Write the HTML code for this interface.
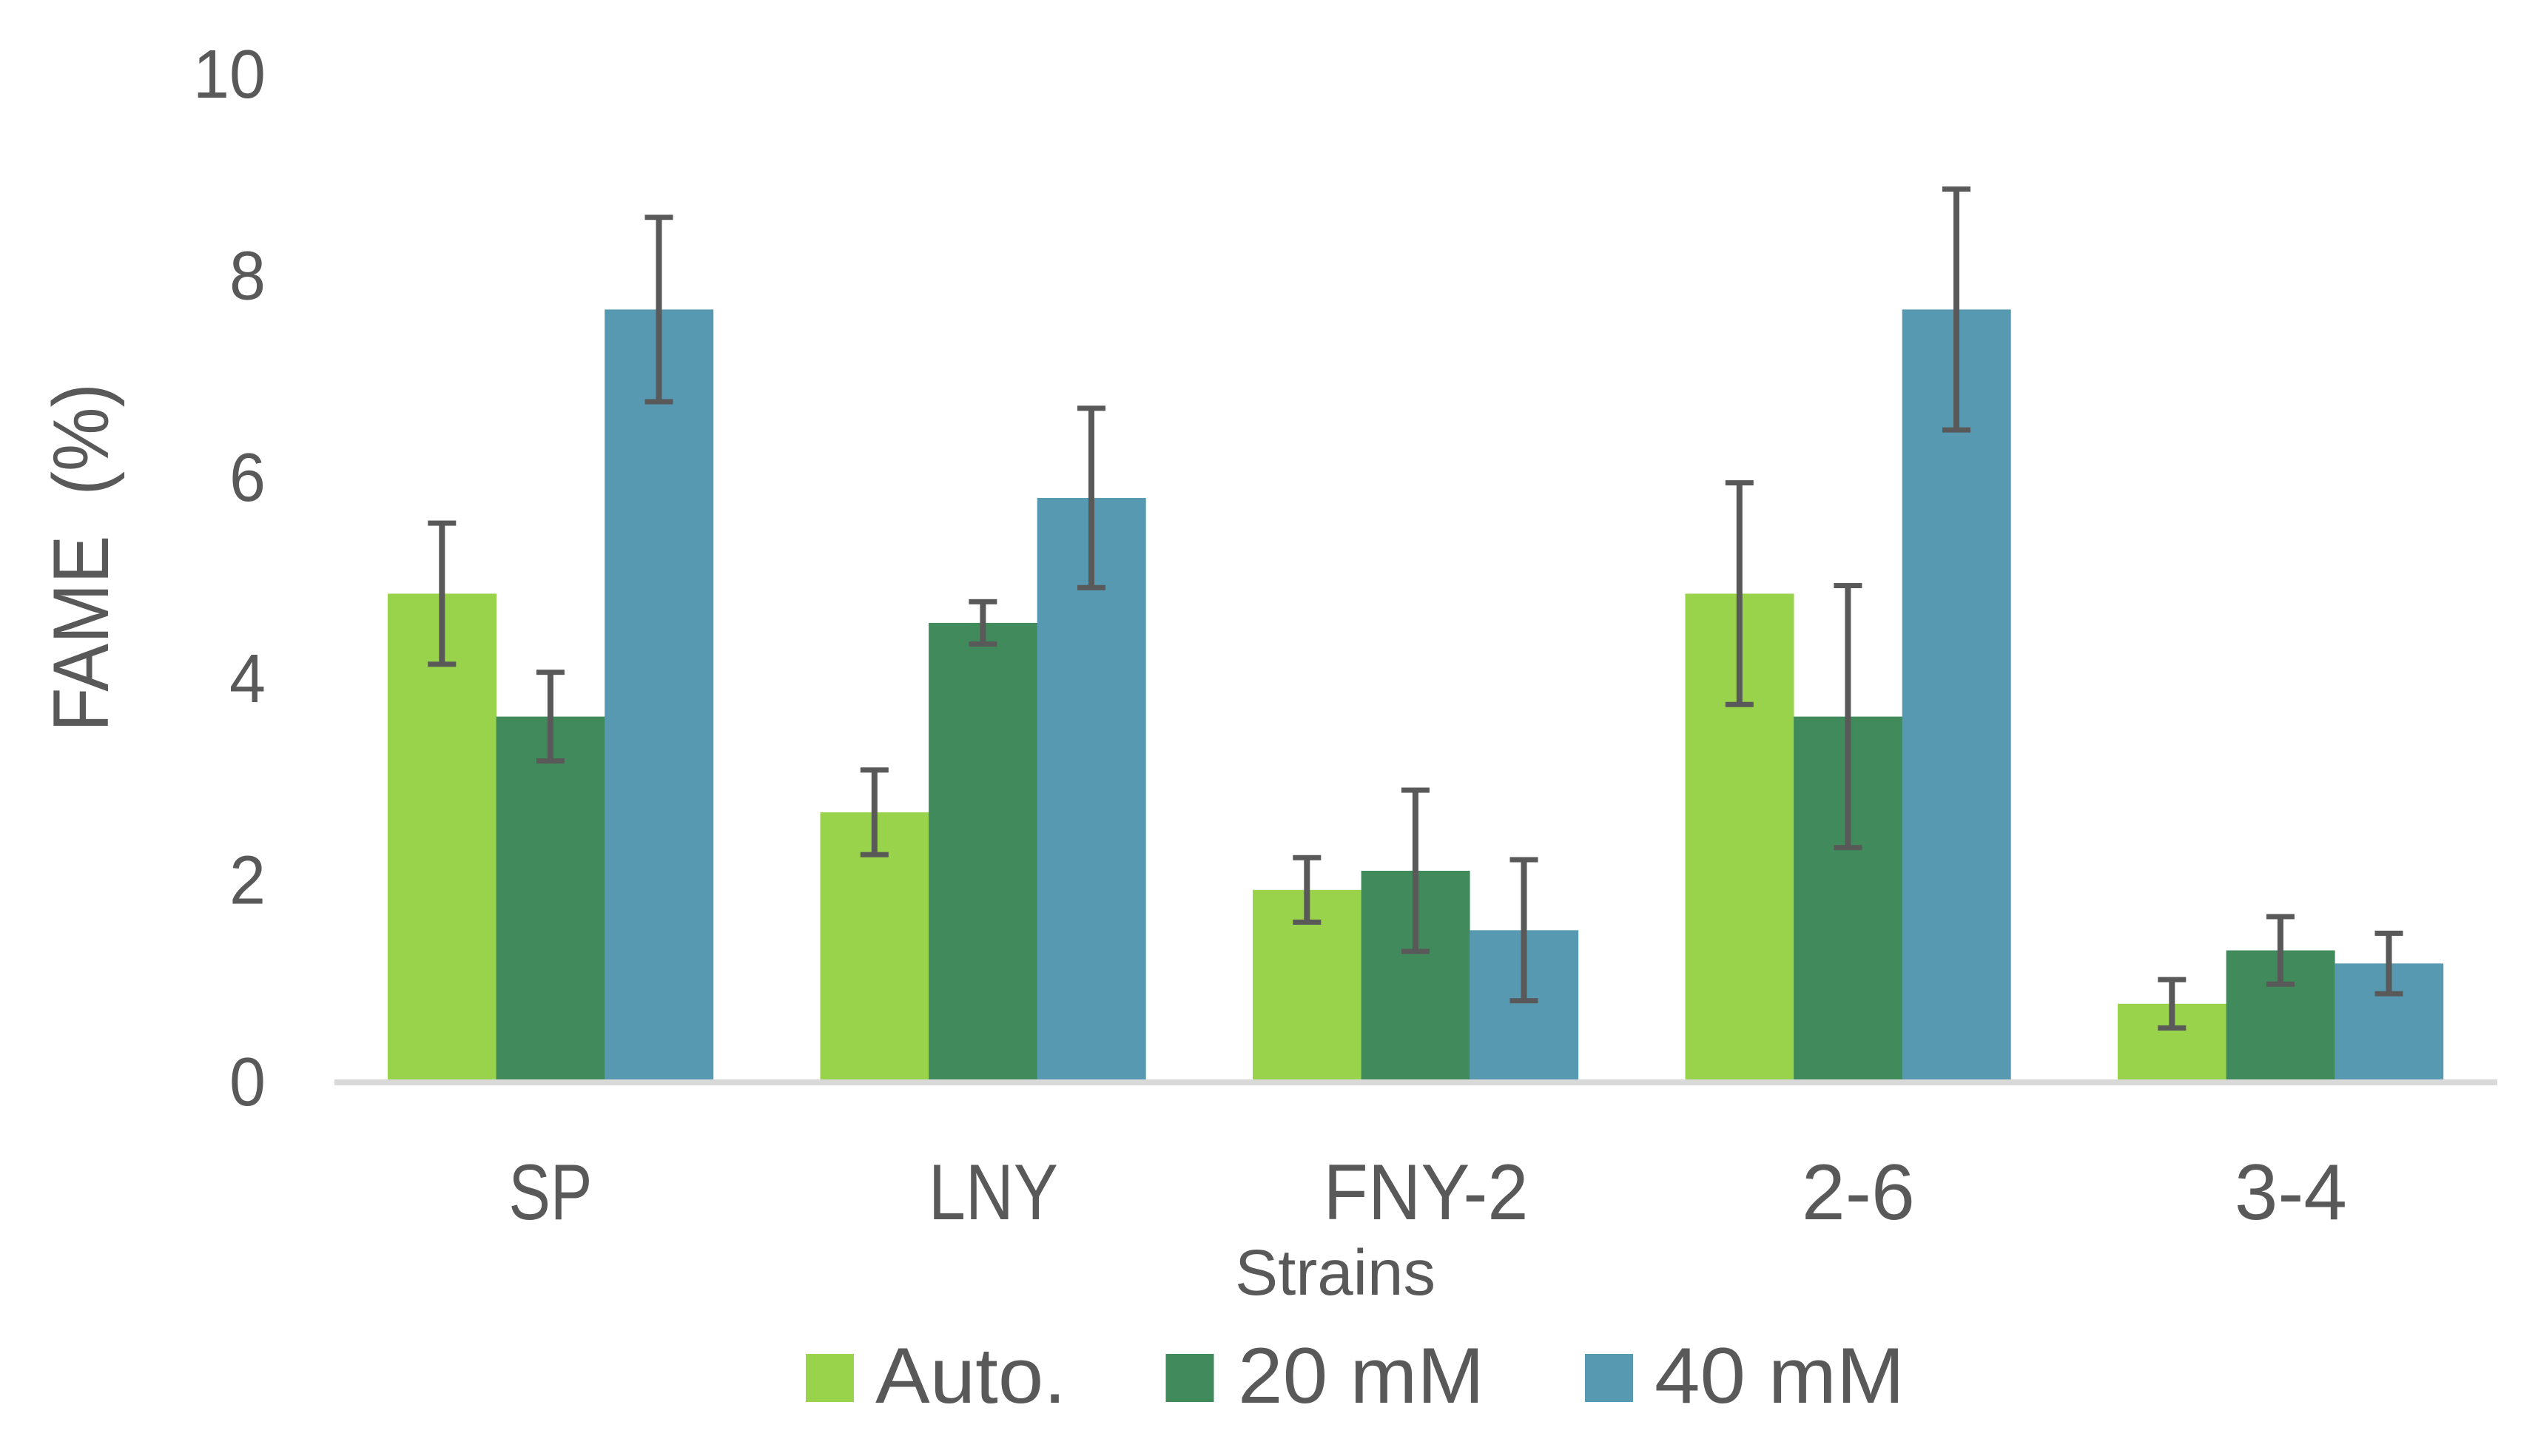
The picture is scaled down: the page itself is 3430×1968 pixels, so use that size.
<!DOCTYPE html>
<html lang="en">
<head>
<meta charset="utf-8">
<title>FAME content by strain</title>
<style>
  html, body { margin: 0; padding: 0; background: #ffffff; }
  svg { display: block; }
  text { font-family: "Liberation Sans", sans-serif; fill: #595959; }
</style>
</head>
<body>
<svg id="chart" xmlns="http://www.w3.org/2000/svg" width="3430" height="1968" viewBox="0 0 3430 1968">
  <rect x="0" y="0" width="3430" height="1968" fill="#ffffff"/>
  <g id="y-ticks"></g>
  <g id="bars"></g>
  <rect x="452" y="1459" width="2923" height="8" fill="#d9d9d9"/>
  <g id="errors"></g>
  <g id="x-labels"></g>
  <text transform="translate(146 989) rotate(-90)" font-size="107" textLength="471" lengthAdjust="spacingAndGlyphs" xml:space="preserve">FAME  (%)</text>
  <text x="1669" y="1750" font-size="87" textLength="271" lengthAdjust="spacingAndGlyphs">Strains</text>
  <g>
    <g>
      <rect x="1089" y="1830" width="65" height="65" fill="#99d34b"/>
      <text x="1183" y="1896" font-size="107" textLength="258" lengthAdjust="spacingAndGlyphs">Auto.</text>
    </g>
    <g>
      <rect x="1575.5" y="1830" width="65" height="65" fill="#418a5c"/>
      <text x="1673" y="1896" font-size="107" textLength="333" lengthAdjust="spacingAndGlyphs">20 mM</text>
    </g>
    <g>
      <rect x="2142" y="1830" width="65" height="65" fill="#5899b2"/>
      <text x="2236" y="1896" font-size="107" textLength="338" lengthAdjust="spacingAndGlyphs">40 mM</text>
    </g>
  </g>
</svg>
<script>
const categories = ["SP", "LNY", "FNY-2", "2-6", "3-4"];
const seriesNames = ["auto", "20-mm", "40-mm"];
const autoValues = [4.85, 2.68, 1.91, 4.85, 0.78];
const mm20Values = [3.63, 4.56, 2.10, 3.63, 1.31];
const mm40Values = [7.67, 5.80, 1.51, 7.67, 1.18];
const autoErrors = [0.70, 0.42, 0.32, 1.10, 0.24];
const mm20Errors = [0.44, 0.21, 0.80, 1.30, 0.335];
const mm40Errors = [0.915, 0.89, 0.70, 1.195, 0.30];
const yTickLabels = ["0", "2", "4", "6", "8", "10"];

const SVG_NS = "http://www.w3.org/2000/svg";
const seriesValues = [autoValues, mm20Values, mm40Values];
const seriesErrors = [autoErrors, mm20Errors, mm40Errors];
const seriesColors = ["#99d34b", "#418a5c", "#5899b2"];
const categoryInkWidths = [113, 175, 277, 153, 152];
const categoryNudges = [0, 14, 14, 14, 14];

function yScale(v) { return 1463 - 136.2 * v; }
function groupStart(i) { return 524 + 584.5 * i; }
const barWidth = 146.6;
function barX(i, s) { return groupStart(i) + barWidth * s; }
function make(tag, attrs) {
  const el = document.createElementNS(SVG_NS, tag);
  Object.keys(attrs).forEach(function (k) { el.setAttribute(k, attrs[k]); });
  return el;
}

const barsLayer = document.getElementById("bars");
const errorsLayer = document.getElementById("errors");
const yLayer = document.getElementById("y-ticks");
const xLayer = document.getElementById("x-labels");

categories.forEach(function (cat, i) {
  seriesValues.forEach(function (values, s) {
    const top = yScale(values[i]);
    const bar = make("rect", { x: barX(i, s), y: top, width: barWidth + 0.4, height: yScale(0) - top, fill: seriesColors[s] });
    
    
    barsLayer.appendChild(bar);

    const cx = barX(i, s) + barWidth / 2;
    const hi = yScale(values[i] + seriesErrors[s][i]);
    const lo = yScale(values[i] - seriesErrors[s][i]);
    const stem = make("rect", { x: cx - 4, y: hi, width: 8, height: lo - hi, fill: "#595959" });
    
    
    errorsLayer.appendChild(stem);
    const capTop = make("rect", { x: cx - 19, y: hi - 3.5, width: 38, height: 7, fill: "#595959" });
    
    
    errorsLayer.appendChild(capTop);
    const capBottom = make("rect", { x: cx - 19, y: lo - 3.5, width: 38, height: 7, fill: "#595959" });
    
    
    errorsLayer.appendChild(capBottom);
  });

  const label = make("text", {
    x: groupStart(i) + barWidth * 1.5 + categoryNudges[i],
    y: 1648,
    "font-size": 107,
    "text-anchor": "middle",
    textLength: categoryInkWidths[i],
    lengthAdjust: "spacingAndGlyphs"
  });
  label.textContent = cat;
  
  
  xLayer.appendChild(label);
});

yTickLabels.forEach(function (t) {
  const v = parseFloat(t);
  const tick = make("text", {
    x: 359,
    y: yScale(v) + 31,
    "font-size": 93,
    "text-anchor": "end",
    textLength: t.length * 49,
    lengthAdjust: "spacingAndGlyphs"
  });
  tick.textContent = t;
  
  
  yLayer.appendChild(tick);
});
</script>
</body>
</html>
